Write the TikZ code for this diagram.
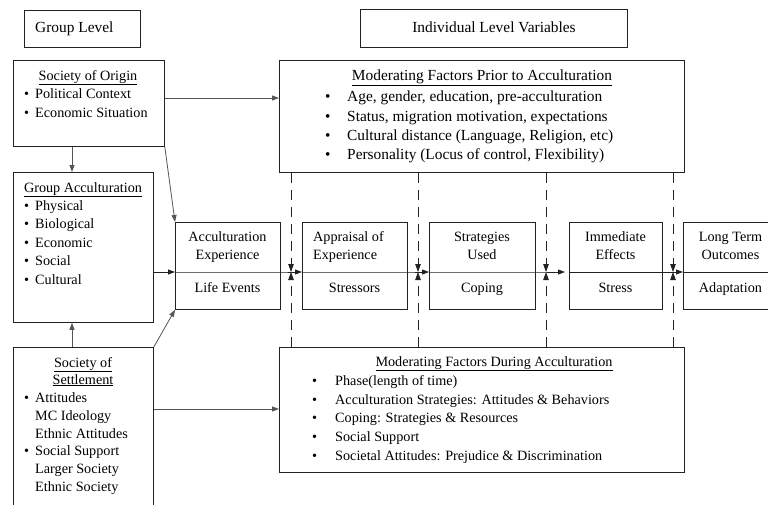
\documentclass[tikz,border=0pt]{standalone}
\usepackage{fontspec}
\setmainfont{Liberation Serif}
\usetikzlibrary{arrows.meta,positioning,calc}
\definecolor{boxLine}{HTML}{222222}
\definecolor{linkGray}{HTML}{555555}

\begin{document}
\begin{tikzpicture}[x=1pt,y=-1pt,
    box/.style={draw=boxLine,line width=0.8pt,rectangle,anchor=north west,inner sep=0pt},
    lbl/.style={inner sep=0pt,anchor=base west,font=\fontsize{14.2}{17}\selectfont},
    ctr/.style={inner sep=0pt,anchor=base,font=\fontsize{14.2}{17}\selectfont},
    big/.style={font=\fontsize{15.4}{18}\selectfont},
    link/.style={draw=linkGray,line width=0.8pt,-{Triangle[length=7pt,width=5pt]}},
    flow/.style={draw=boxLine,line width=0.8pt,-{Triangle[length=7pt,width=5pt]}},
    guide/.style={draw=boxLine,line width=0.8pt,dash pattern=on 10pt off 7pt,-{Triangle[length=8pt,width=5.5pt]}}]
  \useasboundingbox (0,0) rectangle (768,504);
  \clip (0,0) rectangle (768,504);

  % level headings
  \node[box,minimum width=116pt,minimum height=37pt] (glevel) at (24,10) {};
  \node[lbl,big] (glevelT) at (35,32) {Group Level};
  \node[box,minimum width=267pt,minimum height=38pt] (ilevel) at (360,9) {};
  \node[ctr,big] (ilevelT) at (494,32) {Individual Level Variables};

  % group level boxes
  \node[box,minimum width=151pt,minimum height=86pt] (origin) at (13,60) {};
  \node[ctr] (originT) at (88,80) {\underline{Society of Origin}};
  \foreach \yy/\itm [count=\k] in {98/Political Context,117/Economic Situation} {
    \node[lbl] (originB\k) at (24,\yy) {\textbullet};
    \node[lbl] (originI\k) at (35,\yy) {\itm};
  }
  \node[box,minimum width=140pt,minimum height=150pt] (gacc) at (13,172) {};
  \node[ctr] (gaccT) at (83,192) {\underline{Group Acculturation}};
  \foreach \yy/\itm [count=\k] in {210/Physical,228.5/Biological,247/Economic,265.5/Social,284/Cultural} {
    \node[lbl] (gaccB\k) at (24,\yy) {\textbullet};
    \node[lbl] (gaccI\k) at (35,\yy) {\itm};
  }
  \node[box,minimum width=140pt,minimum height=170pt] (settle) at (13,347) {};
  \node[ctr] (settleT1) at (83,367) {\underline{Society of}};
  \node[ctr] (settleT2) at (83,384) {\underline{Settlement}};
  \node[lbl] (settleB1) at (24,402) {\textbullet};
  \node[lbl] (settleB2) at (24,455) {\textbullet};
  \foreach \yy/\itm [count=\k] in {402/Attitudes,420/MC Ideology,438/Ethnic Attitudes,455/Social Support,473/Larger Society,491/Ethnic Society} {
    \node[lbl] (settleI\k) at (35,\yy) {\itm};
  }

  % moderating factors
  \node[box,minimum width=405pt,minimum height=112pt] (prior) at (279,60) {};
  \node[ctr,big] (priorT) at (482,80) {\underline{Moderating Factors Prior to Acculturation}};
  \foreach \yy/\itm [count=\k] in {101/{Age, gender, education, pre-acculturation},
      121/{Status, migration motivation, expectations},
      140/{Cultural distance (Language, Religion, etc)},
      159/{Personality (Locus of control, Flexibility)}} {
    \node[lbl,big] (priorB\k) at (325,\yy) {\textbullet};
    \node[lbl,big] (priorI\k) at (347,\yy) {\itm};
  }
  \node[box,minimum width=405pt,minimum height=125pt] (during) at (279,347) {};
  \node[ctr] (duringT) at (494,366) {\underline{Moderating Factors During Acculturation}};
  \foreach \yy/\itm [count=\k] in {385/{Phase(length of time)},
      404/{Acculturation Strategies: Attitudes \& Behaviors},
      422/{Coping: Strategies \& Resources},
      441/{Social Support},
      460/{Societal Attitudes: Prejudice \& Discrimination}} {
    \node[lbl] (duringB\k) at (312,\yy) {\textbullet};
    \node[lbl] (duringI\k) at (335,\yy) {\itm};
  }

  % process boxes
  \node[box,minimum width=105pt,minimum height=87pt] (accexp) at (175,222) {};
  \node[ctr] (accexpT1) at (227.5,241) {Acculturation};
  \node[ctr] (accexpT2) at (227.5,259) {Experience};
  \node[ctr] (accexpT3) at (227.5,292) {Life Events};
  \node[box,minimum width=105pt,minimum height=87pt] (apprais) at (302,222) {};
  \node[lbl] (appraisT1) at (313,241) {Appraisal of};
  \node[lbl] (appraisT2) at (313,259) {Experience};
  \node[ctr] (appraisT3) at (354.5,292) {Stressors};
  \node[box,minimum width=106pt,minimum height=87pt] (strat) at (429,222) {};
  \node[ctr] (stratT1) at (482,241) {Strategies};
  \node[ctr] (stratT2) at (482,259) {Used};
  \node[ctr] (stratT3) at (482,292) {Coping};
  \node[box,minimum width=93pt,minimum height=87pt] (immed) at (569,222) {};
  \node[ctr] (immedT1) at (615.5,241) {Immediate};
  \node[ctr] (immedT2) at (615.5,259) {Effects};
  \node[ctr] (immedT3) at (615.5,292) {Stress};
  \node[box,minimum width=95pt,minimum height=87pt] (longterm) at (683,222) {};
  \node[ctr] (longtermT1) at (730.5,241) {Long Term};
  \node[ctr] (longtermT2) at (730.5,259) {Outcomes};
  \node[ctr] (longtermT3) at (730.5,292) {Adaptation};

  % main flow line
  \coordinate (mid) at (0,272);
  \coordinate (farEnd) at (790,272);
  \draw[flow] (gacc.east |- mid) -- (accexp.west |- mid);
  \draw[flow] (accexp.west |- mid) -- (accexp.east |- mid) -- (apprais.west |- mid);
  \draw[flow] (apprais.west |- mid) -- (apprais.east |- mid) -- (strat.west |- mid);
  \draw[flow,shorten >=4pt] (strat.west |- mid) -- (strat.east |- mid) -- (immed.west |- mid);
  \draw[boxLine,line width=0.8pt] (immed.west |- mid) -- (immed.east |- mid);
  \draw[flow] (immed.east |- mid) -- (longterm.west |- mid);
  \draw[boxLine,line width=0.8pt] (longterm.west |- mid) -- (farEnd);

  % moderating guides
  \foreach \xx [count=\k] in {291,418,546,673} {
    \coordinate (g\k) at (\xx,272);
    \draw[guide] (g\k |- prior.south) -- (g\k);
    \draw[guide] (g\k |- during.north) -- (g\k);
  }

  % group level links
  \coordinate (r1) at (0,98);
  \coordinate (r2) at (0,409);
  \draw[link] (origin.east |- r1) -- (prior.west |- r1);
  \draw[link] (settle.east |- r2) -- (during.west |- r2);
  \draw[link] ([xshift=59pt]origin.south west) -- ([xshift=59pt]gacc.north west);
  \draw[link] ([xshift=59pt]settle.north west) -- ([xshift=59pt]gacc.south west);
  \draw[link] (origin.south east) -- (accexp.north west);
  \draw[link] (settle.north east) -- (accexp.south west);
\end{tikzpicture}
\end{document}
